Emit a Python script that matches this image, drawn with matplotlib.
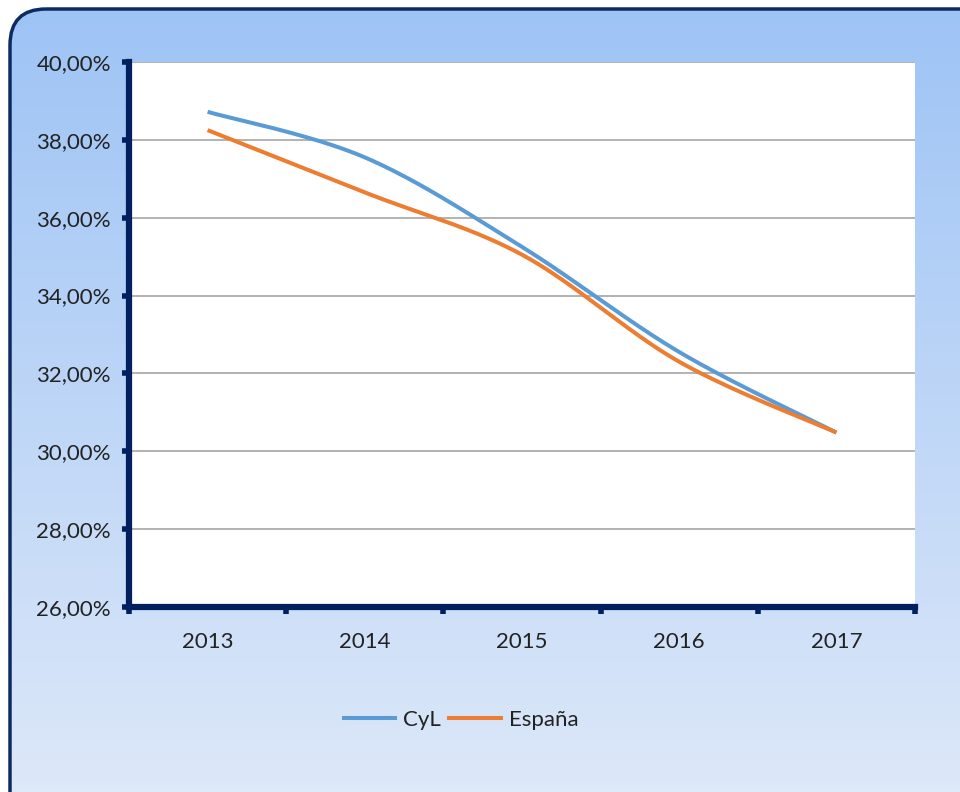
import numpy as np
import matplotlib
matplotlib.use("Agg")
import matplotlib.pyplot as plt
from matplotlib.patches import FancyBboxPatch
from matplotlib.ticker import FuncFormatter, MultipleLocator

plt.rcParams["font.family"] = ["Lato", "DejaVu Sans"]

years = ["2013", "2014", "2015", "2016", "2017"]
cyl = [38.72, 37.55, 35.25, 32.55, 30.48]
espana = [38.25, 36.65, 35.05, 32.30, 30.48]

navy = "#002060"


def smooth(ys, n=40):
    # bezier smoothing through the points, like spreadsheet "smoothed line"
    pts = np.array([[i, y] for i, y in enumerate(ys)], dtype=float)
    out = []
    for i in range(len(pts) - 1):
        p0 = pts[i - 1] if i > 0 else pts[i]
        p1 = pts[i]
        p2 = pts[i + 1]
        p3 = pts[i + 2] if i + 2 < len(pts) else pts[i + 1]
        c1 = p1 + (p2 - p0) / 6
        c2 = p2 - (p3 - p1) / 6
        t = np.linspace(0, 1, n)[:, None]
        seg = ((1 - t) ** 3) * p1 + 3 * ((1 - t) ** 2) * t * c1 + 3 * (1 - t) * t ** 2 * c2 + t ** 3 * p2
        out.append(seg if i == 0 else seg[1:])
    out = np.vstack(out)
    return out[:, 0], out[:, 1]


fig = plt.figure(figsize=(9.6, 7.92), dpi=100, facecolor="white")

# gradient backdrop inside a rounded frame
bg = fig.add_axes([0, 0, 1, 1], zorder=0)
bg.set_xlim(0, 960)
bg.set_ylim(792, 0)
bg.axis("off")
top = np.array([157, 195, 245]) / 255
bottom = np.array([221, 232, 249]) / 255
grad = np.linspace(0, 1, 256)[:, None, None]
img = top * (1 - grad) + bottom * grad
img = np.repeat(img, 2, axis=1)
frame = FancyBboxPatch((10, 9), 1000, 850, boxstyle="round,pad=0,rounding_size=36",
                       facecolor="none", edgecolor="#0E2A62", linewidth=2.5, zorder=3)
bg.add_patch(frame)
im = bg.imshow(img, extent=[0, 960, 792, 0], aspect="auto", zorder=1)
im.set_clip_path(frame)

ax = fig.add_axes([129 / 960, 1 - 607 / 792, 786 / 960, 545 / 792], zorder=2)
ax.set_facecolor("white")

x = np.arange(len(years))
xs, ys = smooth(cyl)
ax.plot(xs, ys, color="#5B9BD5", linewidth=2.9, label="CyL", solid_capstyle="butt")
xs, ys = smooth(espana)
ax.plot(xs, ys, color="#ED7D31", linewidth=2.9, label="España", solid_capstyle="butt")

ax.set_xlim(-0.5, len(years) - 0.5)
ax.set_ylim(26, 40)
ax.yaxis.set_major_locator(MultipleLocator(2))
ax.yaxis.set_major_formatter(FuncFormatter(lambda v, p: f"{v:.2f}%".replace(".", ",")))
ax.grid(axis="y", color="#A6A6A6", linewidth=1.2)
ax.set_axisbelow(True)

ax.set_xticks(np.arange(-0.5, len(years), 1))
ax.set_xticklabels([])
ax.set_xticks(x, minor=True)
ax.set_xticklabels(years, minor=True)
ax.tick_params(axis="x", which="minor", length=0, pad=18, labelsize=16, labelcolor="#222222")
ax.tick_params(axis="x", which="major", length=5, width=4, color=navy, direction="out")
ax.tick_params(axis="y", length=5, width=4, color=navy, direction="out", pad=8,
               labelsize=16, labelcolor="#222222")

for side in ["top", "right"]:
    ax.spines[side].set_visible(False)
for side in ["left", "bottom"]:
    ax.spines[side].set_color(navy)
    ax.spines[side].set_linewidth(4.5)

fig.legend(loc="center", bbox_to_anchor=(460 / 960, 1 - 720 / 792), ncol=2, frameon=False,
           fontsize=16, handlelength=2.5, handletextpad=0.25, columnspacing=0.3,
           labelcolor="#222222")

fig.savefig("out.png", dpi=100, facecolor="white")
